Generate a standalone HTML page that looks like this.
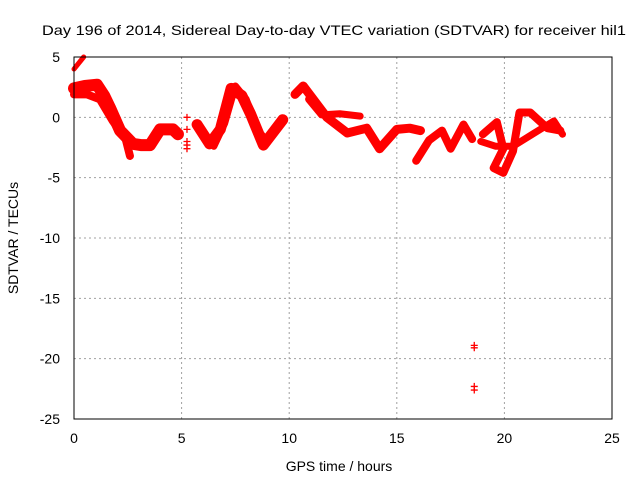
<!DOCTYPE html>
<html><head><meta charset="utf-8"><style>
body{margin:0;background:#fff}
svg{display:block;font-family:"Liberation Sans",sans-serif}
</style></head><body>
<svg id="c" width="640" height="480" viewBox="0 0 640 480">
<rect width="640" height="480" fill="#fff"/>
<text x="42" y="35" font-size="14" textLength="584" lengthAdjust="spacingAndGlyphs" fill="#000">Day 196 of 2014, Sidereal Day-to-day VTEC variation (SDTVAR) for receiver hil1</text>
<g id="grid"></g>
<g id="ticks"></g>
<g id="marks"></g>
<rect x="74" y="57" width="538" height="362" fill="none" stroke="#000" stroke-width="1"/>
<text x="339" y="471" font-size="14" text-anchor="middle">GPS time / hours</text>
<text transform="translate(18,238) rotate(-90)" font-size="14" text-anchor="middle">SDTVAR / TECUs</text>
</svg>
<script>
const xTicks=[0,5,10,15,20,25];
const yTicks=[5,0,-5,-10,-15,-20,-25];
const traceA=[[0.0,2.4],[0.5,2.6],[1.07,2.7],[1.4,1.8],[1.67,0.8],[2.14,-1.1],[2.74,-2.2],[3.1,-2.3],[3.53,-2.3],[4.0,-1.0],[4.6,-1.0],[4.83,-1.4]];
const traceA3=[[0.0,1.9],[0.6,1.9],[1.2,1.5],[1.8,-0.3],[2.4,-1.8],[2.6,-3.2]];
const traceA2=[[0.0,4.0],[0.45,5.0]];
const traceB=[[5.72,-0.6],[6.3,-2.2],[6.8,-1.0],[7.3,2.4],[7.8,1.8],[8.2,0.3],[8.8,-2.3],[9.7,-0.2]];
const traceB2=[[6.5,-2.4],[7.0,-0.5],[7.5,2.6],[8.0,1.5],[8.5,-1.0],[9.0,-2.0],[9.5,-0.8]];
const traceC=[[10.27,1.9],[10.65,2.6],[11.75,0.0],[12.7,-1.3],[13.6,-0.9],[14.2,-2.6],[15.0,-1.0],[15.6,-0.9],[16.1,-1.1]];
const traceC2=[[10.9,1.5],[11.5,0.2],[12.35,0.3],[13.3,0.1]];
const traceD=[[15.9,-3.6],[16.5,-1.9],[17.1,-1.1],[17.5,-2.6],[18.1,-0.6],[18.5,-1.8]];
const traceE=[[19.0,-1.4],[19.65,-0.4],[19.95,-2.6],[19.5,-4.2],[19.95,-4.6],[20.4,-2.8],[20.7,0.4],[21.2,0.4],[22.0,-0.9],[22.6,-1.1]];
const traceE2=[[18.9,-2.0],[19.6,-2.4],[20.4,-2.4],[21.3,-1.4],[22.3,-0.3],[22.7,-1.4]];
const outlierX=[5.25,5.25,5.25,5.25,5.25,18.6,18.6,18.6,18.6];
const outlierY=[0,-1,-2,-2.3,-2.6,-18.9,-19.1,-22.3,-22.6];
const NS='http://www.w3.org/2000/svg';
const sx=h=>74+h*(538/25);
const sy=v=>57+(5-v)*(362/30);
function mk(tag,attrs,parent){const e=document.createElementNS(NS,tag);for(const k in attrs)e.setAttribute(k,attrs[k]);parent.appendChild(e);return e;}
const grid=document.getElementById('grid'),ticks=document.getElementById('ticks'),marks=document.getElementById('marks');
xTicks.forEach(t=>{
 if(t>0&&t<25){const l=mk('line',{x1:sx(t),x2:sx(t),y1:57,y2:419,stroke:'#a0a0a0','stroke-dasharray':'2,3'},grid);
 
 }
 const tx=mk('text',{x:sx(t),y:443,'font-size':14,'text-anchor':'middle'},ticks);tx.textContent=t;
 
 
});
yTicks.forEach(t=>{
 if(t<5&&t>-25){const l=mk('line',{x1:74,x2:612,y1:sy(t),y2:sy(t),stroke:'#a0a0a0','stroke-dasharray':'2,3'},grid);
 
 }
 const tx=mk('text',{x:60,y:sy(t)+5,'font-size':14,'text-anchor':'end'},ticks);tx.textContent=t;
 
 
});
function trace(arr,w,name){
 const p=mk('polyline',{points:arr.map(d=>sx(d[0])+','+sy(d[1])).join(' '),fill:'none',stroke:'#ff0000','stroke-width':w,'stroke-linejoin':'round','stroke-linecap':'round'},marks);
 
 
}
trace(traceA,12,'series-a');
trace(traceA3,8,'series-a3');
trace(traceA2,5,'series-a2');
trace(traceB,11,'series-b');
trace(traceB2,7,'series-b2');
trace(traceC,9,'series-c');
trace(traceC2,7,'series-c2');
trace(traceD,8,'series-d');
trace(traceE,8,'series-e');
trace(traceE2,7,'series-e2');
outlierX.forEach((h,i)=>{
 const x=sx(h),y=sy(outlierY[i]);
 const g=mk('path',{d:`M${x-3.5},${y}H${x+3.5}M${x},${y-3.5}V${y+3.5}`,stroke:'#ff0000','stroke-width':1.3},marks);
 
 
});
</script>
</body></html>
